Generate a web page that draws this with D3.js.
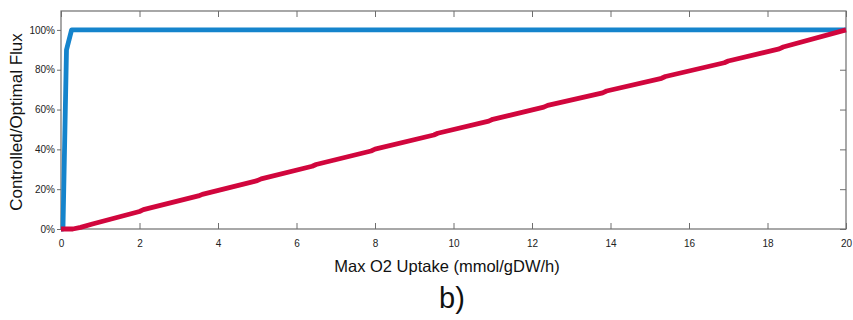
<!DOCTYPE html>
<html>
<head>
<meta charset="utf-8">
<script src="https://cdn.jsdelivr.net/npm/d3@7"></script>
<style>
  body { margin: 0; background: #fff; }
  svg { font-family: "Liberation Sans", Arial, sans-serif; }
</style>
</head>
<body>
<svg id="chart" width="853" height="320"></svg>
<script>
// values (x = max O2 uptake, y = fraction of optimal flux)
var blue_x = [0, 0.05, 0.14, 0.27, 20];
var blue_y = [0, 0, 0.9, 1.0, 1.0];

var red_x = [0, 0.3, 0.5, 0.8, 2.0, 2.1, 3.5, 3.6, 5.0, 5.1, 6.4, 6.5, 7.9, 8.0, 9.5, 9.6,
             10.9, 11.0, 12.3, 12.4, 13.8, 13.9, 15.3, 15.4, 16.9, 17.0, 18.3, 18.4, 20];
var red_y = [0, 0, 0.008, 0.025, 0.088, 0.097, 0.166, 0.174, 0.243, 0.252, 0.315, 0.324,
             0.392, 0.401, 0.472, 0.481, 0.542, 0.551, 0.612, 0.621, 0.684, 0.693,
             0.757, 0.766, 0.835, 0.844, 0.905, 0.914, 1.0];

var x_ticks = [0, 2, 4, 6, 8, 10, 12, 14, 16, 18, 20];
var y_ticks = [0, 0.2, 0.4, 0.6, 0.8, 1.0];

var svg = d3.select("#chart"),
    plot_l = 61, plot_r = 846, plot_t = 11, plot_b = 229,
    axis_color = "#6e6e6e";

var x = d3.scaleLinear().domain([0, 20]).range([plot_l, plot_r]);
var y = d3.scaleLinear().domain([0, 1.095]).range([plot_b, plot_t]);

function toPoints(xs, ys){
    return xs.map(function(d, i){ return [d, ys[i]]; });
}

var line = d3.line()
    .x(function(d){ return x(d[0]); })
    .y(function(d){ return y(d[1]); });

// frame
svg.append("rect")
    .attr("x", plot_l).attr("y", plot_t)
    .attr("width", plot_r - plot_l).attr("height", plot_b - plot_t)
    .attr("fill", "none").attr("stroke", axis_color).attr("stroke-width", 1.2);

// axes, matlab style ticks
var xb = svg.append("g").attr("transform", "translate(0," + plot_b + ")")
    .call(d3.axisBottom(x).tickValues(x_ticks).tickSize(-6).tickPadding(11).tickFormat(d3.format("d")));
var xt = svg.append("g").attr("transform", "translate(0," + plot_t + ")")
    .call(d3.axisTop(x).tickValues(x_ticks).tickSize(-6).tickFormat(""));
var yl = svg.append("g").attr("transform", "translate(" + plot_l + ",0)")
    .call(d3.axisLeft(y).tickValues(y_ticks).tickSize(4).tickPadding(2).tickFormat(d3.format(".0%")));
var yr = svg.append("g").attr("transform", "translate(" + plot_r + ",0)")
    .call(d3.axisRight(y).tickValues(y_ticks).tickSize(-6).tickFormat(""));

[xb, xt, yl, yr].forEach(function(g){
    g.attr("font-family", null).attr("font-size", null);
    g.select(".domain").remove();
    g.selectAll(".tick line").attr("stroke", axis_color).attr("stroke-width", 1);
    g.selectAll(".tick text").attr("fill", "#222").style("font-size", "10px");
});

// series
svg.append("path")
    .datum(toPoints(blue_x, blue_y))
    .attr("d", line)
    .attr("fill", "none")
    .attr("stroke", "#1584cc")
    .attr("stroke-width", 4.8)
    .attr("stroke-linejoin", "round");

svg.append("path")
    .datum(toPoints(red_x, red_y))
    .attr("d", line)
    .attr("fill", "none")
    .attr("stroke", "#d1063d")
    .attr("stroke-width", 4.8)
    .attr("stroke-linejoin", "round");

// titles
svg.append("text")
    .attr("transform", "translate(22," + ((plot_t + plot_b) / 2 + 2) + ") rotate(-90)")
    .attr("text-anchor", "middle")
    .style("font-size", "17px")
    .attr("fill", "#111")
    .text("Controlled/Optimal Flux");

svg.append("text")
    .attr("x", 447).attr("y", 272)
    .attr("text-anchor", "middle")
    .style("font-size", "16.5px")
    .attr("fill", "#111")
    .text("Max O2 Uptake (mmol/gDW/h)");

svg.append("text")
    .attr("x", 452).attr("y", 308)
    .attr("text-anchor", "middle")
    .style("font-size", "29px")
    .attr("fill", "#111")
    .text("b)");
</script>
</body>
</html>
